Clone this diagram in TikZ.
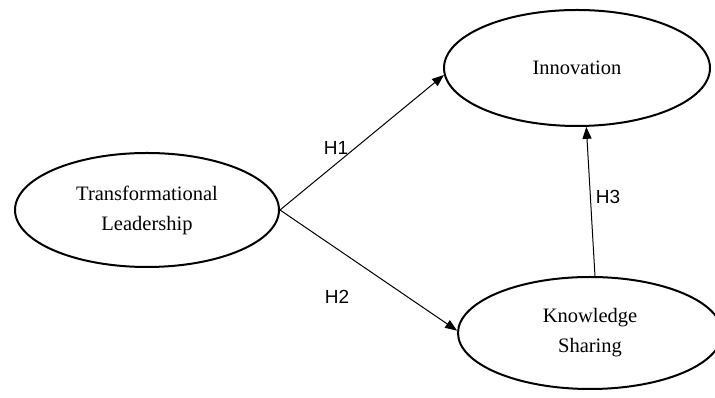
\documentclass[tikz,border=0pt]{standalone}
\usepackage{fontspec}
\setmainfont{Liberation Serif}
\newfontfamily\hfont{Liberation Sans}
\usetikzlibrary{shapes.geometric,arrows.meta}
\begin{document}
\begin{tikzpicture}[x=1pt,y=1pt,
  construct/.style={ellipse,draw,line width=2pt,inner sep=0pt,align=center,
    font=\fontsize{20.5}{30}\selectfont},
  link/.style={line width=1pt,-{Triangle[length=12pt,width=9pt]}},
  hlabel/.style={font=\hfont\fontsize{19}{22}\selectfont,inner sep=0pt}]
\clip (0,0) rectangle (715,398);
\fill[white] (0,0) rectangle (715,398);
\node[construct,minimum width=264pt,minimum height=114pt] (tl) at (147,188) {Transformational\\Leadership};
\node[construct,minimum width=266pt,minimum height=116pt] (inn) at (577,330) {Innovation};
\node[construct,minimum width=264pt,minimum height=112pt] (ks) at (590,65) {Knowledge\\Sharing};
\draw[link] (tl.east) -- (inn.183);
\draw[link] (tl.east) -- (ks.179);
\draw[link] (ks.85) -- (inn.279);
\node[hlabel] (h1) at (336,250) {H1};
\node[hlabel] (h2) at (337,101) {H2};
\node[hlabel] (h3) at (608,201) {H3};
\end{tikzpicture}
\end{document}
